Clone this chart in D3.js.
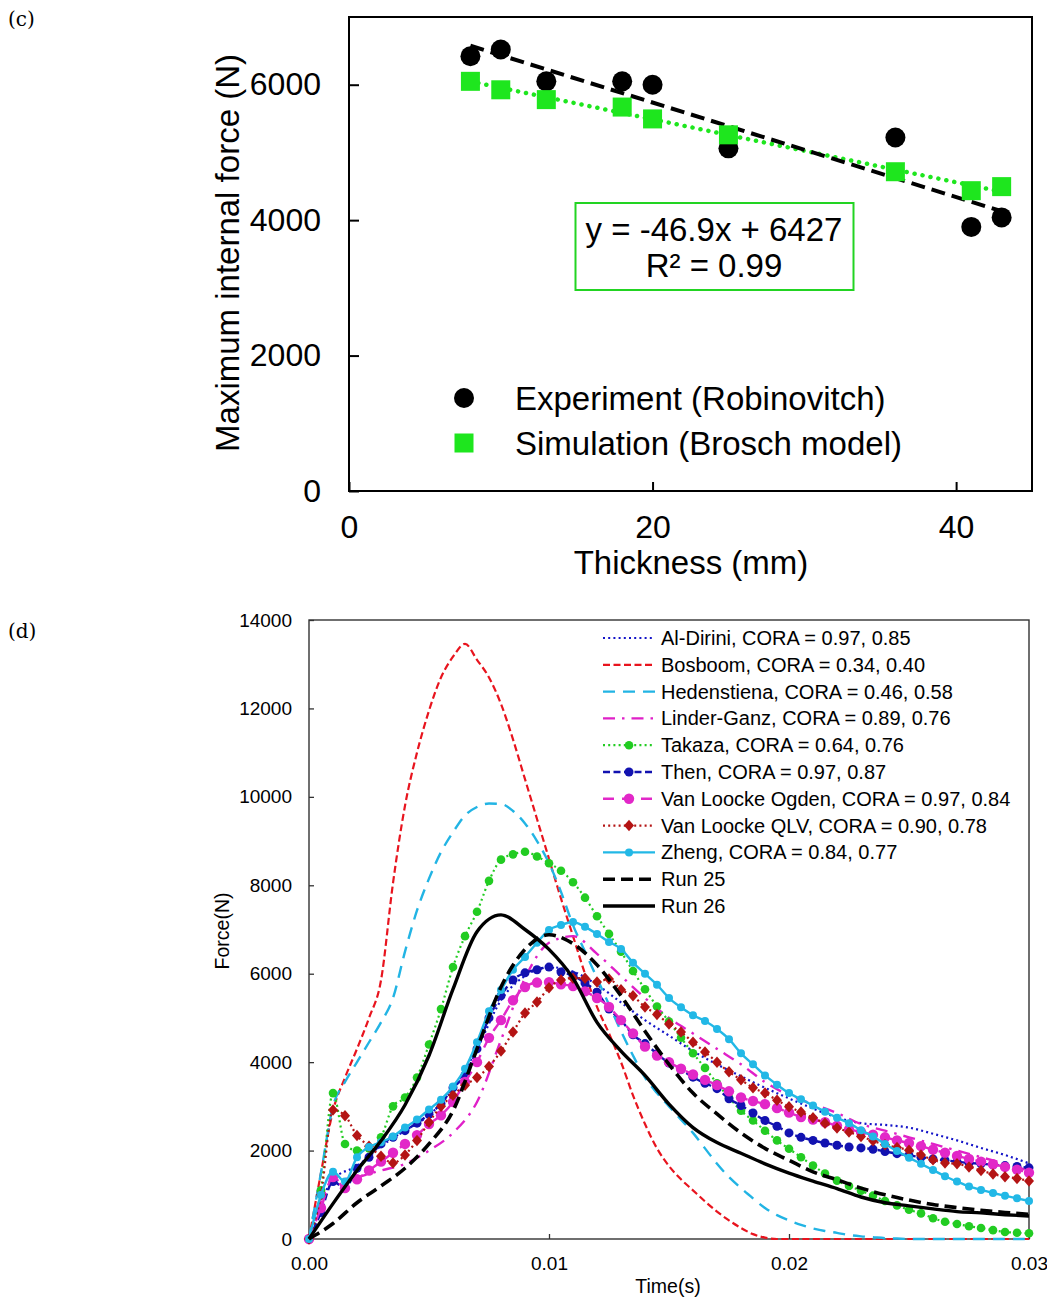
<!DOCTYPE html>
<html>
<head>
<meta charset="utf-8">
<script src="https://cdn.jsdelivr.net/npm/d3@7"></script>
<style>
  html, body { margin: 0; padding: 0; background: #fff; }
  svg { display: block; }
  text { font-family: "Liberation Sans", Arial, sans-serif; fill: #000; }
</style>
</head>
<body>
<svg id="chart" width="1047" height="1299"></svg>
<script>
// ---------------- Panel (c) data ----------------
const thicknessMM = [8, 10, 13, 18, 20, 25, 36, 41, 43];
const experimentForce = [6420, 6520, 6050, 6050, 6000, 5060, 5220, 3900, 4040];
const simulationForce = [6050, 5925, 5780, 5670, 5495, 5260, 4715, 4435, 4495];
const topYTicks = [0, 2000, 4000, 6000];
const topXTicks = [0, 20, 40];
const legendTop = ["Experiment (Robinovitch)", "Simulation (Brosch model)"];
const equationLines = ["y = -46.9x + 6427", "R\u00B2 = 0.99"];

// ---------------- Panel (d) data ----------------
const timeCoarse = d3.range(31).map(i => +(i * 0.001).toFixed(4));
const timeFine = d3.range(61).map(i => +(i * 0.0005).toFixed(4));
const bottomYTicks = [0, 2000, 4000, 6000, 8000, 10000, 12000, 14000];
const bottomXTicks = [0, 0.01, 0.02, 0.03];

const alDirini = [0, 1350, 1650, 2100, 2450, 2800, 3400, 4300, 5400, 5950, 6150, 6050, 5750, 5350, 4950, 4600, 4250, 3950, 3680, 3420, 3180, 2950, 2750, 2620, 2580, 2520, 2380, 2230, 2060, 1900, 1710];
const bosboom = [0, 1500, 2900, 3650, 4300, 5000, 5850, 8050, 9800, 11000, 11950, 12700, 13170, 13460, 13100, 12700, 12100, 11300, 10400, 9500, 8600, 7700, 6850, 6000, 5250, 4650, 4000, 3250, 2600, 2050, 1650, 1350, 1100, 850, 620, 420, 250, 110, 30, 0, 0, 0, 0, 0, 0, 0, 0, 0, 0, 0, 0, 0, 0, 0, 0, 0, 0, 0, 0, 0, 0];
const hedenstiena = [0, 1500, 3000, 3550, 4000, 4450, 4900, 5450, 6500, 7430, 8150, 8750, 9200, 9580, 9770, 9850, 9840, 9680, 9400, 9000, 8500, 7850, 7100, 6500, 5900, 5300, 4700, 4150, 3650, 3300, 3000, 2700, 2400, 2050, 1700, 1400, 1150, 920, 700, 540, 420, 320, 240, 180, 140, 90, 60, 40, 20, 10, 0, 0, 0, 0, 0, 0, 0, 0, 0, 0, 0];
const linderGanz = [0, 1300, 1400, 1550, 1700, 2000, 2400, 3100, 4500, 5900, 6700, 6850, 6450, 5950, 5450, 5000, 4650, 4300, 3950, 3550, 3250, 3050, 2850, 2600, 2450, 2300, 2150, 2000, 1850, 1700, 1550];
const takaza = [0, 1100, 3300, 2150, 2000, 2050, 2300, 3000, 3200, 3650, 4400, 5200, 6150, 6850, 7400, 8100, 8580, 8700, 8760, 8650, 8500, 8330, 8070, 7720, 7300, 6900, 6500, 6060, 5650, 5260, 4920, 4550, 4200, 3870, 3520, 3200, 2900, 2680, 2450, 2230, 2040, 1850, 1660, 1480, 1320, 1200, 1090, 980, 860, 760, 660, 580, 470, 390, 340, 290, 250, 200, 160, 140, 130];
const then = [0, 600, 1300, 1150, 1600, 1850, 2150, 2300, 2450, 2620, 2820, 3060, 3420, 3700, 4300, 5000, 5500, 5860, 6020, 6090, 6150, 6040, 5960, 5790, 5580, 5200, 4950, 4620, 4420, 4190, 3980, 3830, 3660, 3520, 3400, 3170, 3020, 2850, 2680, 2550, 2400, 2300, 2230, 2170, 2120, 2080, 2060, 2030, 1980, 1930, 1890, 1850, 1810, 1780, 1750, 1720, 1700, 1680, 1660, 1640, 1610];
const vanLoockeOgden = [0, 700, 1400, 1150, 1350, 1550, 1750, 1950, 2150, 2350, 2600, 2800, 3100, 3550, 4000, 4550, 4950, 5400, 5700, 5800, 5810, 5760, 5720, 5600, 5450, 5250, 4950, 4650, 4350, 4150, 4000, 3850, 3720, 3600, 3480, 3340, 3200, 3120, 3050, 2960, 2860, 2760, 2700, 2640, 2560, 2480, 2420, 2360, 2300, 2230, 2170, 2100, 2020, 1950, 1880, 1810, 1750, 1690, 1630, 1570, 1500];
const vanLoockeQLV = [0, 1000, 2920, 2790, 2340, 2100, 1870, 1720, 1900, 2230, 2640, 3000, 3250, 3480, 3650, 3900, 4250, 4680, 5110, 5360, 5680, 5860, 5900, 5900, 5810, 5880, 5640, 5500, 5250, 5080, 4860, 4680, 4450, 4230, 4000, 3780, 3600, 3420, 3300, 3140, 2990, 2870, 2740, 2620, 2510, 2420, 2320, 2220, 2130, 2070, 2010, 1900, 1790, 1720, 1700, 1630, 1550, 1470, 1410, 1370, 1310];
const zheng = [0, 1000, 1520, 1300, 1850, 2080, 2190, 2320, 2520, 2700, 2930, 3150, 3450, 3850, 4450, 5150, 5630, 6090, 6380, 6700, 6990, 7100, 7170, 7060, 6900, 6720, 6560, 6250, 6000, 5750, 5450, 5240, 5060, 4930, 4750, 4520, 4200, 3950, 3700, 3490, 3300, 3160, 3020, 2880, 2740, 2620, 2460, 2320, 2150, 1990, 1840, 1700, 1560, 1420, 1300, 1190, 1110, 1040, 980, 920, 860];
const run25 = [0, 350, 820, 1200, 1600, 2150, 2900, 4300, 5700, 6550, 6880, 6680, 6200, 5500, 4700, 3950, 3300, 2830, 2400, 2050, 1780, 1520, 1340, 1150, 1000, 880, 780, 710, 650, 600, 560];
const run26 = [0, 800, 1550, 2220, 3030, 4150, 5650, 6950, 7330, 7000, 6550, 5900, 4900, 4250, 3700, 3050, 2520, 2180, 1940, 1700, 1490, 1310, 1140, 950, 820, 750, 680, 620, 590, 550, 520];

const seriesNames = [
  "Al-Dirini, CORA = 0.97, 0.85",
  "Bosboom, CORA = 0.34, 0.40",
  "Hedenstiena, CORA = 0.46, 0.58",
  "Linder-Ganz, CORA = 0.89, 0.76",
  "Takaza, CORA = 0.64, 0.76",
  "Then, CORA = 0.97, 0.87",
  "Van Loocke Ogden, CORA = 0.97, 0.84",
  "Van Loocke QLV, CORA = 0.90, 0.78",
  "Zheng, CORA = 0.84, 0.77",
  "Run 25",
  "Run 26"
];
const seriesValues = [alDirini, bosboom, hedenstiena, linderGanz, takaza, then, vanLoockeOgden, vanLoockeQLV, zheng, run25, run26];

// styles (kept separate from data)
const seriesStyles = [
  { color: "#1414c8", width: 2.2, dash: "2,3.2", cap: "butt", marker: null },
  { color: "#e8141e", width: 2.2, dash: "7,3.5", cap: "butt", marker: null },
  { color: "#22b4e4", width: 2.4, dash: "12,8", cap: "butt", marker: null },
  { color: "#e020c8", width: 2.4, dash: "12,7,2.5,7", cap: "butt", marker: null },
  { color: "#22cc22", width: 2.2, dash: "2,3.2", cap: "butt", marker: "circle", r: 4.3 },
  { color: "#1212b0", width: 2.4, dash: "7,3.5", cap: "butt", marker: "circle", r: 4.5 },
  { color: "#e228c8", width: 2.4, dash: "11,8", cap: "butt", marker: "circle", r: 5.2 },
  { color: "#b41414", width: 2.2, dash: "2,3.2", cap: "butt", marker: "diamond", r: 5 },
  { color: "#22b8e6", width: 2.4, dash: null, cap: "butt", marker: "circle", r: 4.0 },
  { color: "#000000", width: 3.6, dash: "12,6", cap: "butt", marker: null },
  { color: "#000000", width: 3.4, dash: null, cap: "butt", marker: null }
];

const svg = d3.select("#chart");

// ================= Panel (c) =================
svg.append("text").attr("x", 8).attr("y", 26)
  .style("font-family", "'DejaVu Serif', serif").style("font-size", "20px").text("(c)");

const cx = d3.scaleLinear().domain([0, 45]).range([349, 1032]);
const cy = d3.scaleLinear().domain([0, 7000]).range([491, 17]);
const gC = svg.append("g");

const axC_y = gC.append("g").attr("transform", `translate(${cx(0)},0)`)
  .call(d3.axisLeft(cy).tickValues(topYTicks).tickSize(-10).tickPadding(28).tickFormat(d3.format("d")));
const axC_x = gC.append("g").attr("transform", `translate(0,${cy(0)})`)
  .call(d3.axisBottom(cx).tickValues(topXTicks).tickSize(-9).tickPadding(24).tickFormat(d3.format("d")));
[axC_y, axC_x].forEach(a => {
  a.select(".domain").remove();
  a.selectAll("line").attr("stroke", "#000").attr("stroke-width", 2);
  a.selectAll("text").style("font-size", "32px").style("font-family", "'Liberation Sans', Arial, sans-serif").attr("fill", "#000");
});
gC.append("rect").attr("x", cx(0)).attr("y", cy(7000))
  .attr("width", cx(45) - cx(0)).attr("height", cy(0) - cy(7000))
  .attr("fill", "none").attr("stroke", "#000").attr("stroke-width", 2);

gC.append("text").attr("transform", `translate(239,253) rotate(-90)`)
  .attr("text-anchor", "middle").style("font-size", "33px").text("Maximum internal force (N)");
gC.append("text").attr("x", 691).attr("y", 574)
  .attr("text-anchor", "middle").style("font-size", "33px").text("Thickness (mm)");

function linFit(xs, ys) {
  const mx = d3.mean(xs), my = d3.mean(ys);
  let sxy = 0, sxx = 0;
  xs.forEach((x, i) => { sxy += (x - mx) * (ys[i] - my); sxx += (x - mx) * (x - mx); });
  const b = sxy / sxx;
  return { b, a: my - b * mx };
}
const fitExp = linFit(thicknessMM, experimentForce);
const fitSim = linFit(thicknessMM, simulationForce);
const x0 = d3.min(thicknessMM), x1 = d3.max(thicknessMM);

gC.append("line")
  .attr("x1", cx(x0)).attr("y1", cy(fitSim.a + fitSim.b * x0))
  .attr("x2", cx(x1)).attr("y2", cy(fitSim.a + fitSim.b * x1))
  .attr("stroke", "#1ee61e").attr("stroke-width", 4.5).attr("stroke-linecap", "round")
  .attr("stroke-dasharray", "0.1,8");
gC.append("line")
  .attr("x1", cx(x0)).attr("y1", cy(fitExp.a + fitExp.b * x0))
  .attr("x2", cx(x1)).attr("y2", cy(fitExp.a + fitExp.b * x1))
  .attr("stroke", "#000").attr("stroke-width", 4).attr("stroke-dasharray", "14,7");

gC.selectAll("circle.exp").data(thicknessMM).join("circle")
  .attr("cx", d => cx(d)).attr("cy", (d, i) => cy(experimentForce[i])).attr("r", 10).attr("fill", "#000");
gC.selectAll("rect.sim").data(thicknessMM).join("rect")
  .attr("x", d => cx(d) - 9.5).attr("y", (d, i) => cy(simulationForce[i]) - 9.5)
  .attr("width", 19).attr("height", 19).attr("fill", "#1ee61e");

// equation box
gC.append("rect").attr("x", 575.5).attr("y", 203).attr("width", 278).attr("height", 87)
  .attr("fill", "#fff").attr("stroke", "#22d422").attr("stroke-width", 2);
equationLines.forEach((t, i) => {
  gC.append("text").attr("x", 714).attr("y", 241 + i * 36).attr("text-anchor", "middle")
    .style("font-size", "33px").text(t);
});

// legend (c)
gC.append("circle").attr("cx", 464).attr("cy", 398).attr("r", 10).attr("fill", "#000");
gC.append("rect").attr("x", 454.5).attr("y", 433.5).attr("width", 19).attr("height", 19).attr("fill", "#1ee61e");
legendTop.forEach((t, i) => {
  gC.append("text").attr("x", 515).attr("y", 398 + i * 45).attr("dy", "0.35em")
    .style("font-size", "33px").text(t);
});

// ================= Panel (d) =================
svg.append("text").attr("x", 8).attr("y", 638)
  .style("font-family", "'DejaVu Serif', serif").style("font-size", "20px").text("(d)");

const dx = d3.scaleLinear().domain([0, 0.03]).range([309, 1029]);
const dy = d3.scaleLinear().domain([0, 14000]).range([1239, 620]);
const gD = svg.append("g");

const axD_y = gD.append("g").attr("transform", `translate(${dx(0)},0)`)
  .call(d3.axisLeft(dy).tickValues(bottomYTicks).tickSize(-5).tickPadding(17).tickFormat(d3.format("d")));
const axD_x = gD.append("g").attr("transform", `translate(0,${dy(0)})`)
  .call(d3.axisBottom(dx).tickValues(bottomXTicks).tickSize(-5).tickPadding(18).tickFormat(d3.format(".2f")));
[axD_y, axD_x].forEach(a => {
  a.select(".domain").remove();
  a.selectAll("line").attr("stroke", "#333").attr("stroke-width", 1.3);
  a.selectAll("text").style("font-size", "19px").style("font-family", "'Liberation Sans', Arial, sans-serif").attr("fill", "#000");
});
gD.append("rect").attr("x", dx(0)).attr("y", dy(14000))
  .attr("width", dx(0.03) - dx(0)).attr("height", dy(0) - dy(14000))
  .attr("fill", "none").attr("stroke", "#333").attr("stroke-width", 1.4);

gD.append("text").attr("transform", `translate(229,931) rotate(-90)`)
  .attr("text-anchor", "middle").style("font-size", "19.5px").text("Force(N)");
gD.append("text").attr("x", 668).attr("y", 1293)
  .attr("text-anchor", "middle").style("font-size", "19.5px").text("Time(s)");

const lineGen = d3.line().x(d => dx(d[0])).y(d => dy(d[1])).curve(d3.curveMonotoneX);

function drawMarker(g, type, x, y, r, color) {
  if (type === "circle") {
    g.append("circle").attr("cx", x).attr("cy", y).attr("r", r).attr("fill", color);
  } else if (type === "diamond") {
    g.append("path").attr("d", `M${x},${y - r * 1.15}L${x + r},${y}L${x},${y + r * 1.15}L${x - r},${y}Z`).attr("fill", color);
  }
}

svg.append("defs").append("clipPath").attr("id", "clipD")
  .append("rect").attr("x", dx(0) - 6).attr("y", dy(14000)).attr("width", dx(0.03) - dx(0) + 12).attr("height", dy(0) - dy(14000) + 6);

const gLines = gD.append("g").attr("clip-path", "url(#clipD)");
seriesValues.forEach((vals, si) => {
  const st = seriesStyles[si];
  const times = vals.length === timeFine.length ? timeFine : timeCoarse;
  const pts = vals.map((v, i) => [times[i], v]);
  const g = gLines.append("g");
  g.append("path").attr("d", lineGen(pts)).attr("fill", "none")
    .attr("stroke", st.color).attr("stroke-width", st.width)
    .attr("stroke-dasharray", st.dash).attr("stroke-linecap", st.cap).attr("stroke-linejoin", "round");
  if (st.marker) {
    pts.forEach(p => drawMarker(g, st.marker, dx(p[0]), dy(p[1]), st.r, st.color));
  }
});

// legend (d)
const legX0 = 603, legX1 = 655, legTextX = 661, legY0 = 638, legStep = 26.8;
seriesNames.forEach((name, i) => {
  const st = seriesStyles[i];
  const y = legY0 + i * legStep;
  const g = gD.append("g");
  g.append("line").attr("x1", legX0).attr("x2", legX1).attr("y1", y).attr("y2", y)
    .attr("stroke", st.color).attr("stroke-width", st.width).attr("stroke-dasharray", st.dash);
  if (st.marker) drawMarker(g, st.marker, (legX0 + legX1) / 2, y, st.r, st.color);
  g.append("text").attr("x", legTextX).attr("y", y).attr("dy", "0.35em")
    .style("font-size", "20px").text(name);
});
</script>
</body>
</html>
